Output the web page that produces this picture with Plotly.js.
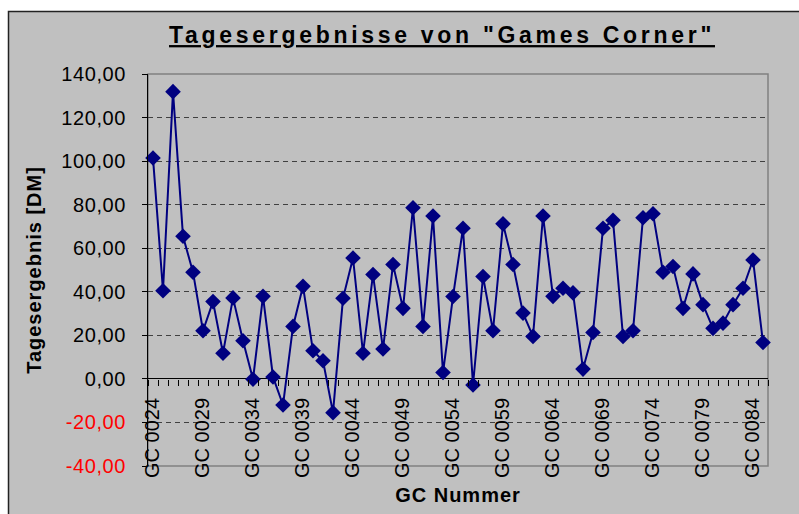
<!DOCTYPE html>
<html>
<head>
<meta charset="utf-8">
<script src="https://cdn.plot.ly/plotly-3.0.1.min.js"></script>
<style>
  html, body { margin: 0; padding: 0; background: #ffffff; }
  #chart { width: 799px; height: 514px; }
  .gtitle { letter-spacing: 3.7px; }
  .ytitle, .xtitle { letter-spacing: 1px; }
  .ytick text { letter-spacing: 0.6px; }
</style>
</head>
<body>
<div id="chart"></div>
<script>
const categories = [
  "GC 0024","GC 0025","GC 0026","GC 0027","GC 0028","GC 0029","GC 0030","GC 0031",
  "GC 0032","GC 0033","GC 0034","GC 0035","GC 0036","GC 0037","GC 0038","GC 0039",
  "GC 0040","GC 0041","GC 0042","GC 0043","GC 0044","GC 0045","GC 0046","GC 0047",
  "GC 0048","GC 0049","GC 0050","GC 0051","GC 0052","GC 0053","GC 0054","GC 0055",
  "GC 0056","GC 0057","GC 0058","GC 0059","GC 0060","GC 0061","GC 0062","GC 0063",
  "GC 0064","GC 0065","GC 0066","GC 0067","GC 0068","GC 0069","GC 0070","GC 0071",
  "GC 0072","GC 0073","GC 0074","GC 0075","GC 0076","GC 0077","GC 0078","GC 0079",
  "GC 0080","GC 0081","GC 0082","GC 0083","GC 0084","GC 0085"
];
const values = [
  101.4, 40.5, 131.9, 65.5, 49.0, 22.1, 35.5, 11.8, 37.2, 17.5,
  -0.2, 37.9, 0.9, -12.0, 24.1, 42.5, 12.9, 8.3, -15.5, 37.0,
  55.5, 11.8, 47.9, 13.7, 52.5, 32.4, 78.6, 24.1, 74.8, 2.9,
  37.8, 69.2, -2.8, 47.0, 22.1, 71.2, 52.5, 30.2, 19.5, 74.8,
  37.9, 41.6, 39.5, 4.5, 21.3, 69.2, 72.8, 19.5, 22.1, 74.0,
  75.8, 49.0, 51.6, 32.4, 48.2, 34.1, 23.2, 25.6, 34.1, 41.6,
  54.6, 16.7
];
const xLabelIdx = [0, 5, 10, 15, 20, 25, 30, 35, 40, 45, 50, 55, 60];
const yTickVals = [-40, -20, 0, 20, 40, 60, 80, 100, 120, 140];
const yGridVals = [-20, 20, 40, 60, 80, 100, 120];

const fmt = v => v.toFixed(2).replace('.', ',');
const yTickText = yTickVals.map(v => v < 0 ? '<span style="color:#ff0000">' + fmt(v) + '</span>' : fmt(v));
const xIdx = categories.map((c, i) => i);

const FONT = 'Liberation Sans, Arial, sans-serif';

const trace = {
  type: 'scatter',
  mode: 'lines+markers',
  x: xIdx,
  y: values,
  line: { color: '#000080', width: 2 },
  marker: { symbol: 'diamond', size: 12, color: '#000080', line: { width: 0 } },
  hoverinfo: 'skip',
  cliponaxis: false
};

const px = p => (p - 148) / 620;
const py = p => (466 - p) / 392;

const layout = {
  width: 799, height: 514,
  margin: { l: 148, r: 31, t: 74, b: 48, pad: 0 },
  paper_bgcolor: '#ffffff',
  plot_bgcolor: '#c0c0c0',
  showlegend: false,
  font: { family: FONT, color: '#000000' },
  title: {
    text: 'Tagesergebnisse von "Games Corner"',
    font: { family: FONT, size: 23, weight: 'bold', color: '#000000', lineposition: 'under' },
    xref: 'paper', x: px(442), xanchor: 'center',
    yref: 'container', y: 1 - 35 / 514, yanchor: 'middle'
  },
  xaxis: {
    type: 'linear',
    range: [-0.5, 61.5],
    anchor: 'free',
    position: 40 / 180,
    tickmode: 'array',
    tickvals: xLabelIdx,
    ticktext: xLabelIdx.map(i => categories[i]),
    tickangle: -90,
    ticks: '',
    ticklabelstandoff: 14,
    tickfont: { family: FONT, size: 20, color: '#000000' },
    showline: false,
    showgrid: false,
    zeroline: false,
    minor: { ticks: 'outside', ticklen: 6, tickwidth: 1, tickcolor: '#000000', tick0: 0.5, dtick: 1, showgrid: false },
    title: { text: 'GC Nummer', font: { family: FONT, size: 20, weight: 'bold', color: '#000000' }, standoff: 11 },
    fixedrange: true
  },
  yaxis: {
    range: [-40, 140],
    tickmode: 'array',
    tickvals: yTickVals,
    ticktext: yTickText,
    ticks: 'outside',
    ticklen: 5,
    tickcolor: '#000000',
    tickfont: { family: FONT, size: 20, color: '#000000' },
    ticklabelstandoff: 12,
    showline: true,
    linecolor: '#000000',
    linewidth: 1,
    showgrid: false,
    zeroline: true,
    zerolinecolor: '#000000',
    zerolinewidth: 1,
    minor: { tickmode: 'array', tickvals: yGridVals, ticks: '', showgrid: true, gridcolor: '#404040', griddash: '5px,4px', gridwidth: 1 },
    title: { text: 'Tagesergebnis [DM]', font: { family: FONT, size: 20, weight: 'bold', color: '#000000' }, standoff: 14 },
    fixedrange: true
  },
  shapes: [
    { type: 'rect', xref: 'paper', yref: 'paper', layer: 'below',
      x0: px(8.5), x1: px(830), y0: py(530), y1: py(11.5),
      fillcolor: '#c0c0c0', line: { color: '#222222', width: 1.5 } },
    { type: 'rect', xref: 'paper', yref: 'paper', layer: 'below',
      x0: 0, x1: 1, y0: 0, y1: 1,
      fillcolor: 'rgba(0,0,0,0)', line: { color: '#808080', width: 1.5 } }
  ]
};

Plotly.newPlot('chart', [trace], layout, { displayModeBar: false, staticPlot: true });
</script>
</body>
</html>
